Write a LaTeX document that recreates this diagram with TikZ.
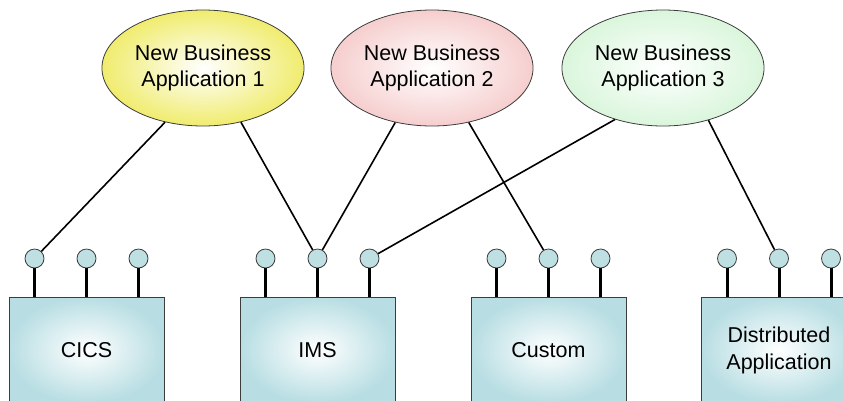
\documentclass[tikz,border=0pt]{standalone}
\usepackage{fontspec}
\setmainfont{Liberation Sans}
\usetikzlibrary{shapes.geometric}

\definecolor{boxcyan}{RGB}{184,222,227}
\definecolor{portcyan}{RGB}{190,224,226}
\definecolor{appyellow}{RGB}{240,236,110}
\definecolor{apppink}{RGB}{246,206,206}
\definecolor{appgreen}{RGB}{218,246,220}
\definecolor{edgegray}{RGB}{60,60,60}

\tikzset{
  app/.style={ellipse, draw=edgegray, line width=0.8pt, shade, inner color=white, outer color=#1,
    minimum width=184pt, minimum height=116pt, align=center, font=\fontsize{21.5}{25.5}\selectfont},
  system/.style={rectangle, draw=edgegray, line width=0.8pt, shade, inner color=white, outer color=boxcyan,
    minimum width=155pt, minimum height=106pt, align=center, font=\fontsize{21.5}{27}\selectfont},
  port/.style={circle, draw=edgegray, line width=0.8pt, fill=portcyan, minimum size=19pt, inner sep=0pt},
  stem/.style={line width=3pt},
  link/.style={line width=1.6pt}
}

\begin{document}
\begin{tikzpicture}[x=1pt, y=-1pt]
\useasboundingbox (0,0) rectangle (843,400);
\clip (0,0) rectangle (843,400);

% legacy systems with their ports
\foreach \name/\cx/\label in {cics/86.5/CICS, ims/317.5/IMS, custom/548.5/Custom, dist/779/{Distributed\\Application}} {
  \node[system] (\name) at (\cx,350) {\label};
  \foreach \i/\dx in {1/-52, 2/0, 3/52} {
    \node[port] (\name\i) at (\cx+\dx,258.5) {};
    \draw[stem] (\name\i) -- (\name\i |- \name.north);
  }
}

% new applications
\node[app=appyellow] (app1) at (203,68) {New Business\\Application 1};
\node[app=apppink] (app2) at (432,68) {New Business\\Application 2};
\node[app=appgreen] (app3) at (663,68) {New Business\\Application 3};

\draw[link] (app1.235) -- (cics1);
\draw[link] (app1.305) -- (ims2);
\draw[link] (app2.236) -- (ims2);
\draw[link] (app2.304) -- (custom2);
\draw[link] (app3.227) -- (ims3);
\draw[link] (app3.311) -- (dist2);
\end{tikzpicture}
\end{document}
